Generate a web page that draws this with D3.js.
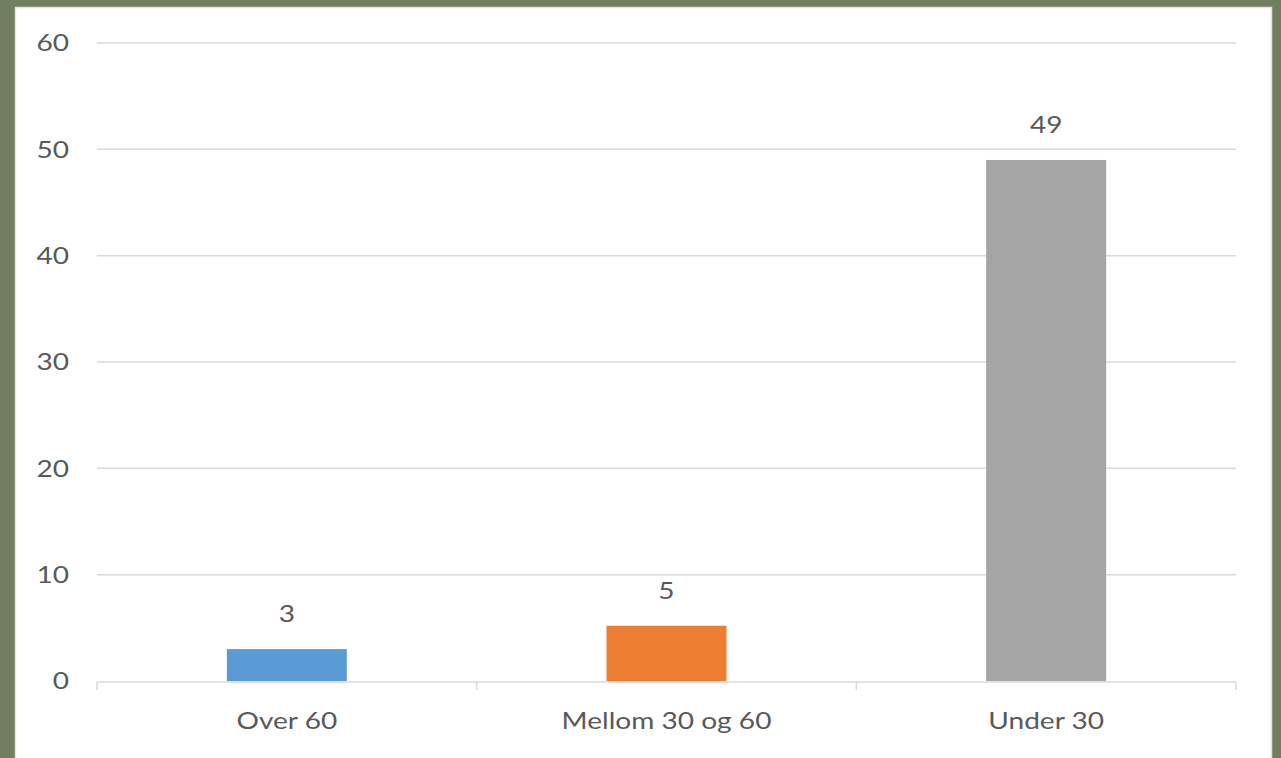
<!DOCTYPE html>
<html><head><meta charset="utf-8">
<script src="https://cdn.jsdelivr.net/npm/d3@7"></script>
<style>
html,body{margin:0;padding:0;background:#717e60;overflow:hidden;}
svg{display:block;}
text{font-family:Lato,"Open Sans",sans-serif;fill:#595959;}
</style></head>
<body>
<svg id="c" width="1281" height="758"></svg>
<script>
const categories = ["Over 60", "Mellom 30 og 60", "Under 30"];
const values = [3, 5.2, 49];
const colors = ["#5b9bd5", "#ed7d31", "#a5a5a5"];
const yTicks = [0, 10, 20, 30, 40, 50, 60];

const svg = d3.select("#c");
svg.append("rect").attr("x", 15.5).attr("y", 7.5).attr("width", 1256).attr("height", 760)
  .attr("fill", "#ffffff").attr("stroke", "#e3e3e3").attr("stroke-width", 1.5);

const mL = 97, mR = 1236, mT = 43, mB = 681;
const FS = 24, SX = 1.17;
const x = d3.scaleBand().domain(categories).range([mL, mR]).paddingInner(0.684).paddingOuter(0.342);
const y = d3.scaleLinear().domain([0, 60]).range([mB, mT]);
const place = (px, py) => `translate(${px},${py}) scale(${SX},1)`;

// gridlines
svg.append("g").selectAll("line").data(yTicks.filter(d => d > 0)).join("line")
  .attr("x1", mL).attr("x2", mR)
  .attr("y1", d => y(d)).attr("y2", d => y(d))
  .attr("stroke", "#d9d9d9").attr("stroke-width", 1.5);

// y tick labels
svg.append("g").selectAll("text").data(yTicks).join("text")
  .attr("transform", d => place(69, y(d))).attr("dy", "0.35em")
  .attr("text-anchor", "end").attr("font-size", FS).text(d => d);

// bars
svg.append("g").selectAll("rect").data(values).join("rect")
  .attr("x", (d, i) => x(categories[i])).attr("width", x.bandwidth())
  .attr("y", d => y(d)).attr("height", d => y(0) - y(d))
  .attr("fill", (d, i) => colors[i]);

// x axis line and ticks
const band = (mR - mL) / categories.length;
const tickXs = d3.range(categories.length + 1).map(i => mL + i * band);
svg.append("line").attr("x1", mL).attr("x2", mR).attr("y1", mB + 1).attr("y2", mB + 1)
  .attr("stroke", "#d9d9d9").attr("stroke-width", 1.5);
svg.append("g").selectAll("line").data(tickXs).join("line")
  .attr("x1", d => d).attr("x2", d => d).attr("y1", mB + 1).attr("y2", mB + 9)
  .attr("stroke", "#d9d9d9").attr("stroke-width", 1.5);

// category labels
svg.append("g").selectAll("text").data(categories).join("text")
  .attr("transform", d => place(x(d) + x.bandwidth() / 2, 729))
  .attr("text-anchor", "middle").attr("font-size", FS).text(d => d);

// data labels
svg.append("g").selectAll("text").data(values).join("text")
  .attr("transform", (d, i) => place(x(categories[i]) + x.bandwidth() / 2, y(d) - 27))
  .attr("text-anchor", "middle").attr("font-size", FS).text(d => d3.format(".0f")(d));
</script>
</body></html>
